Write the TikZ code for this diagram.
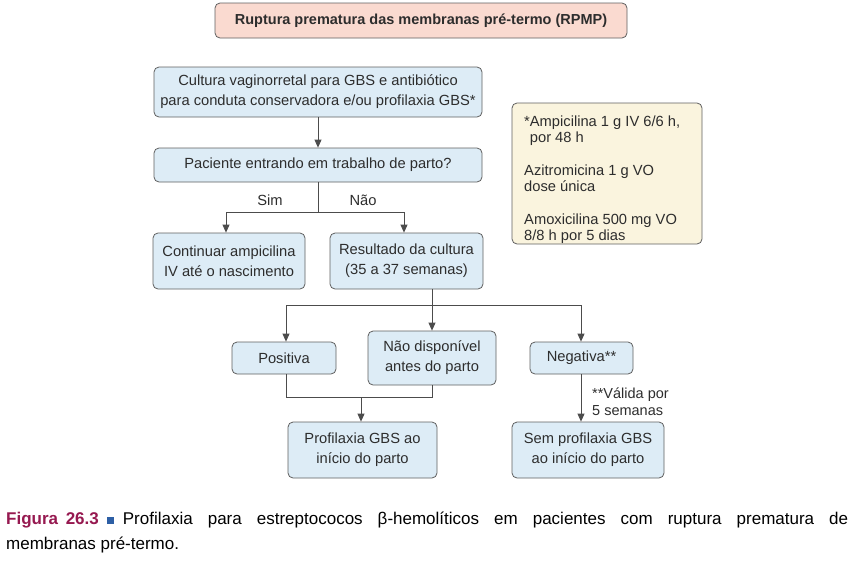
\documentclass[tikz,border=0pt]{standalone}
\usepackage{fontspec}
\setmainfont{Liberation Sans}
\usetikzlibrary{arrows.meta}
\definecolor{boxblue}{RGB}{221,236,246}
\definecolor{boxpink}{RGB}{250,218,208}
\definecolor{boxbeige}{RGB}{250,244,222}
\definecolor{edgegray}{RGB}{95,95,95}
\definecolor{txt}{RGB}{45,45,45}
\definecolor{figred}{RGB}{150,25,80}
\definecolor{bulletblue}{RGB}{45,95,165}
\begin{document}
\begin{tikzpicture}[x=1pt,y=-1pt,
  every node/.style={text=txt,font=\fontsize{14.7}{20}\selectfont},
  fbox/.style={draw=edgegray,line width=0.8pt,fill=boxblue,rounded corners=5pt,inner sep=0pt,align=center},
  conn/.style={draw=edgegray!80!black,line width=0.8pt},
  arr/.style={conn,-{Triangle[length=8pt,width=7pt]}},
  lbl/.style={inner sep=1pt}]
\useasboundingbox (0,0) rectangle (854,560);
% title
\node[fbox,fill=boxpink,minimum width=412pt,minimum height=35pt,font=\bfseries\fontsize{14.5}{18}\selectfont] (title) at (421,20.5) {Ruptura prematura das membranas pré-termo (RPMP)};
% boxes
\node[fbox,minimum width=328pt,minimum height=50pt] (cult) at (318,92) {Cultura vaginorretal para GBS e antibiótico\\para conduta conservadora e/ou profilaxia GBS*};
\node[fbox,minimum width=328pt,minimum height=34pt] (pac) at (318,165) {Paciente entrando em trabalho de parto?};
\node[fbox,minimum width=152pt,minimum height=56pt] (cont) at (229,261) {Continuar ampicilina\\IV até o nascimento};
\node[fbox,minimum width=153pt,minimum height=56pt] (res) at (406.5,261) {Resultado da cultura\\(35 a 37 semanas)};
\node[fbox,minimum width=104pt,minimum height=32pt] (pos) at (284,358) {Positiva};
\node[fbox,minimum width=128pt,minimum height=54pt] (nd) at (432,358) {Não disponível\\antes do parto};
\node[fbox,minimum width=103pt,minimum height=32pt] (neg) at (581.5,358) {Negativa**};
\node[fbox,minimum width=149pt,minimum height=56pt] (prof) at (362.5,450) {Profilaxia GBS ao\\início do parto};
\node[fbox,minimum width=152pt,minimum height=56pt] (sem) at (588,450) {Sem profilaxia GBS\\ao início do parto};
% note
\node[fbox,fill=boxbeige,minimum width=190pt,minimum height=141pt] (note) at (607,173.5) {};
\node[anchor=north west,align=left,inner sep=0pt,font=\fontsize{14.7}{16}\selectfont] (notetxt) at (524,116) {*Ampicilina 1 g IV 6/6 h,\\\phantom{*}por 48 h\\[17pt]Azitromicina 1 g VO\\dose única\\[17pt]Amoxicilina 500 mg VO\\8/8 h por 5 dias};
% connectors
\draw[arr] (cult.south) -- (pac.south |- pac.north);
\coordinate (j1) at (318,212);
\coordinate (jl) at (226,212);
\coordinate (jr) at (404,212);
\draw[conn] (pac.south) -- (j1);
\draw[arr] (j1) -- (jl) -- (jl |- cont.north);
\draw[arr] (j1) -- (jr) -- (jr |- res.north);
\node[lbl] (sim) at (270,200) {Sim};
\node[lbl] (nao) at (363,200) {Não};
\coordinate (j2) at (432,305);
\draw[conn] (res.south -| j2) -- (j2);
\coordinate (j2l) at (286,305);
\coordinate (j2r) at (581,305);
\draw[arr] (j2) -- (j2l) -- (j2l |- pos.north);
\draw[arr] (j2) -- (nd.north);
\draw[arr] (j2) -- (j2r) -- (j2r |- neg.north);
\coordinate (j3) at (361,397);
\draw[conn] (j2l |- pos.south) -- (286,397) -- (432,397) -- (nd.south);
\draw[arr] (j3) -- (j3 |- prof.north);
\draw[arr] (j2r |- neg.south) -- (j2r |- sem.north);
\node[anchor=north west,align=left,inner sep=0pt,font=\fontsize{14.5}{17}\selectfont] (val) at (592,388) {**Válida por\\5 semanas};
% caption
\node[anchor=north west,inner sep=0pt,text width=842pt,align=justify,text=black,font=\fontsize{17}{25}\selectfont] (cap) at (6,512)
 {{\bfseries\color{figred}Figura\hspace{0.45em}26.3}\hspace{0.5em}{\color{bulletblue}\rule[1pt]{7pt}{7pt}}\hspace{0.5em}Profilaxia para estreptococos β-hemolíticos em pacientes com ruptura prematura de\linebreak membranas pré-termo.};
\end{tikzpicture}
\end{document}
